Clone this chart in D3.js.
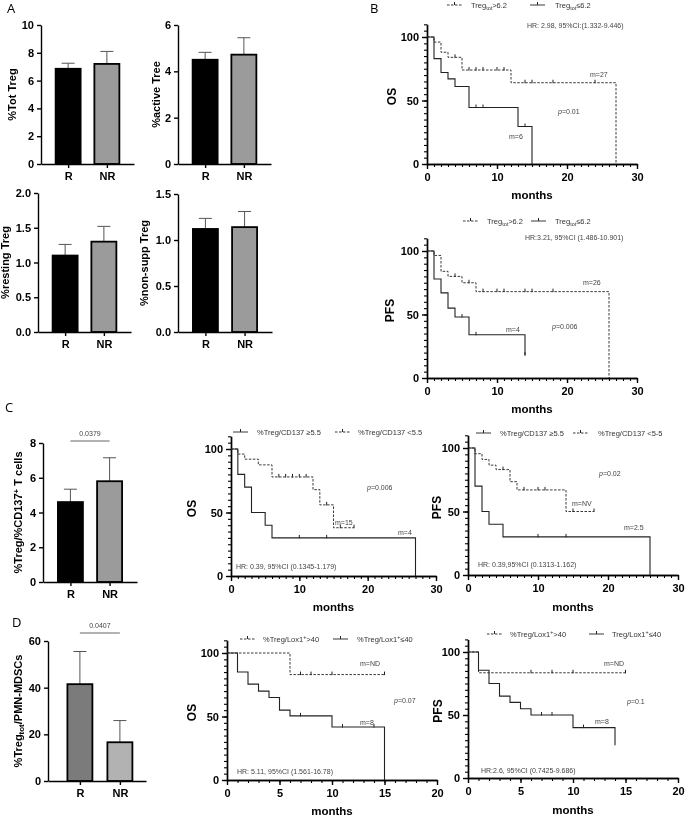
<!DOCTYPE html>
<html>
<head>
<meta charset="utf-8">
<script src="https://cdnjs.cloudflare.com/ajax/libs/d3/7.8.5/d3.min.js"></script>
<style>
body { margin: 0; background: #fff; }
svg { display: block; font-family: "Liberation Sans", Arial, sans-serif; will-change: transform; -webkit-font-smoothing: antialiased; }
.axis text { font-weight: bold; font-size: 11px; fill: #000; }
.axis path, .axis line { stroke: #000; stroke-width: 1.4; }
.minor line { stroke-width: 1.1; }
.lbl { font-weight: bold; fill: #000; }
.note { font-size: 7px; fill: #444; }
.leg { font-size: 7.5px; fill: #333; }
.letter { font-family: "Open Sans", sans-serif; font-size: 13px; }
</style>
</head>
<body>
<script>
var groups = ["R", "NR"];

// bar means and SEM
var totTreg = [6.85, 7.2], totTregSem = [0.4, 0.9];
var activeTreg = [4.5, 4.72], activeTregSem = [0.32, 0.73];
var restingTreg = [1.1, 1.3], restingTregSem = [0.16, 0.22];
var nonSuppTreg = [1.12, 1.14], nonSuppTregSem = [0.115, 0.17];
var cd137Ratio = [4.6, 5.8], cd137RatioSem = [0.74, 1.35];
var mdscRatio = [41.5, 16.6], mdscRatioSem = [14, 9.3];

// KM curves: event times, survival (%), censor times
var bOsHiT = [0, 1, 2, 3, 5, 12, 27], bOsHiS = [100, 96, 88, 84, 74, 64, 0];
var bOsHiCens = [4, 6, 7, 8, 10, 11, 14, 15, 18, 24];
var bOsLoT = [0, 1, 2, 3, 4, 6, 13, 15], bOsLoS = [100, 83, 72, 67, 61, 44.5, 29.5, 0];
var bOsLoCens = [7, 8, 14];

var bPfsHiT = [0, 1, 2, 3, 5, 7, 26], bPfsHiS = [100, 96.5, 84, 80, 75, 68, 0];
var bPfsHiCens = [4, 6, 8, 10, 11, 14, 15, 18];
var bPfsLoT = [0, 1, 2, 3, 4, 6, 14], bPfsLoS = [100, 78, 67, 55, 48, 34, 18];
var bPfsLoCens = [5, 7, 14];

var cOsHiT = [0, 1, 2, 3, 5, 6, 27], cOsHiS = [100, 80, 70, 50, 40, 30, 0];
var cOsHiCens = [10, 14];
var cOsLoT = [0, 1, 2, 4, 6, 12, 13, 15, 18], cOsLoS = [100, 96, 92, 87.5, 78, 68, 56, 38, 38];
var cOsLoCens = [7, 8, 9, 10, 11, 14, 16, 18];

var cPfsHiT = [0, 1, 2, 3, 5, 26], cPfsHiS = [100, 70, 50, 40, 30, 0];
var cPfsHiCens = [10, 14];
var cPfsLoT = [0, 1, 2, 3, 4, 6, 7, 14, 18], cPfsLoS = [100, 95.5, 91, 86.5, 83, 73.5, 67, 50, 50];
var cPfsLoCens = [5, 8, 10, 11, 15, 18];

var dOsHiT = [0, 6, 15], dOsHiS = [100, 83, 83];
var dOsHiCens = [7, 8, 10, 15];
var dOsLoT = [0, 1, 2, 3, 4, 5, 6, 10, 15], dOsLoS = [100, 85, 75.5, 70, 65, 55, 50.5, 41.7, 0];
var dOsLoCens = [7, 11, 14];

var dPfsHiT = [0, 1, 15], dPfsHiS = [100, 83.5, 83.5];
var dPfsHiCens = [6, 8, 10, 15];
var dPfsLoT = [0, 1, 2, 3, 4, 5, 6, 10, 14], dPfsLoS = [100, 85.5, 75, 65, 60, 55, 50, 40, 26];
var dPfsLoCens = [7, 8, 11];

var svg = d3.select("body").append("svg")
    .attr("width", 685)
    .attr("height", 816);

function rich(sel, parts) {
    var shift = 0;
    parts.forEach(function(p) {
        var ts = sel.append("tspan").text(p[0]);
        var want = p[1] === "sub" ? 2 : (p[1] === "sup" ? -3 : 0);
        if (want !== shift) {
            ts.attr("dy", want - shift);
            shift = want;
        }
        if (p[1] === "sub" || p[1] === "sup") ts.attr("font-size", "72%");
        if (p[1] === "it") ts.attr("font-style", "italic");
    });
    return sel;
}

function barChart(o) {
    var g = svg.append("g");
    var x = d3.scalePoint().domain(groups).range([o.left, o.right])
        .padding(o.pad || 0.7).align(o.align || 0.5);
    var y = d3.scaleLinear().domain([0, o.max]).range([o.bottom, o.top]);
    var fills = o.fills || ["#000", "#9b9b9b"];

    g.selectAll(".err").data(o.values).enter().append("path")
        .attr("d", function(d, i) {
            var cx = x(groups[i]), yt = y(d + o.sem[i]);
            return "M" + cx + "," + y(d) + "V" + yt + "M" + (cx - 6.5) + "," + yt + "H" + (cx + 6.5);
        })
        .attr("stroke", "#555")
        .attr("stroke-width", 1)
        .attr("fill", "none");

    g.selectAll(".bar").data(o.values).enter().append("rect")
        .attr("x", function(d, i) { return x(groups[i]) - 12.5; })
        .attr("width", 25)
        .attr("y", function(d) { return y(d); })
        .attr("height", function(d) { return y(0) - y(d); })
        .attr("fill", function(d, i) { return fills[i]; })
        .attr("stroke", "#000")
        .attr("stroke-width", 1.8);

    g.append("g").attr("class", "axis")
        .attr("transform", "translate(" + o.left + ",0)")
        .call(d3.axisLeft(y).tickValues(o.ticks).tickFormat(o.fmt || d3.format("d")).tickSize(4).tickSizeOuter(0));

    g.append("g").attr("class", "axis")
        .attr("transform", "translate(0," + o.bottom + ")")
        .call(d3.axisBottom(x).tickSize(4).tickPadding(4).tickSizeOuter(0));

    var lab = g.append("text").attr("class", "lbl")
        .attr("font-size", 11)
        .attr("text-anchor", "middle")
        .attr("transform", "translate(" + o.labelX + "," + ((o.top + o.bottom) / 2) + ") rotate(-90)");
    rich(lab, o.label);

    if (o.sig) {
        g.append("line")
            .attr("x1", x(groups[0])).attr("x2", x(groups[1]))
            .attr("y1", o.sigY).attr("y2", o.sigY)
            .attr("stroke", "#666").attr("stroke-width", 1);
        g.append("text").attr("class", "note")
            .attr("x", (x(groups[0]) + x(groups[1])) / 2)
            .attr("y", o.sigY - 5)
            .attr("text-anchor", "middle")
            .text(o.sig);
    }
}

function survAt(c, t) {
    var s = c.s[0];
    for (var i = 0; i < c.t.length; i++) if (c.t[i] <= t) s = c.s[i];
    return s;
}

function kmChart(o) {
    var g = svg.append("g");
    var x = d3.scaleLinear().domain([0, o.xMax]).range([o.x0, o.x1]);
    var y = d3.scaleLinear().domain([0, 110]).range([o.y0, o.y0 - 1.1 * (o.y0 - o.y100)]);

    g.append("g").attr("class", "axis minor")
        .attr("transform", "translate(" + o.x0 + ",0)")
        .call(d3.axisLeft(y).tickValues(d3.range(0, 111, 5)).tickFormat("").tickSize(3).tickSizeOuter(0));
    g.append("g").attr("class", "axis")
        .attr("transform", "translate(" + o.x0 + ",0)")
        .call(d3.axisLeft(y).tickValues([0, 50, 100]).tickSize(5).tickPadding(3).tickSizeOuter(0));

    g.append("g").attr("class", "axis minor")
        .attr("transform", "translate(0," + o.y0 + ")")
        .call(d3.axisBottom(x).tickValues(d3.range(0, o.xMax + 1)).tickFormat("").tickSize(3).tickSizeOuter(0));
    g.append("g").attr("class", "axis")
        .attr("transform", "translate(0," + o.y0 + ")")
        .call(d3.axisBottom(x).tickValues(d3.range(0, o.xMax + 1, o.xStep)).tickSize(5).tickPadding(4).tickSizeOuter(0));

    var line = d3.line()
        .x(function(d) { return x(d[0]); })
        .y(function(d) { return y(d[1]); })
        .curve(d3.curveStepAfter);

    o.curves.forEach(function(c) {
        var pts = c.t.map(function(t, i) { return [t, c.s[i]]; });
        g.append("path")
            .attr("d", line(pts))
            .attr("fill", "none")
            .attr("stroke", "#222")
            .attr("stroke-width", c.dash ? 0.9 : 1.1)
            .attr("stroke-dasharray", c.dash ? "2.5,1.5" : null);
        g.selectAll(null).data(c.cens).enter().append("line")
            .attr("x1", function(d) { return x(d); })
            .attr("x2", function(d) { return x(d); })
            .attr("y1", function(d) { return y(survAt(c, d)) - 3; })
            .attr("y2", function(d) { return y(survAt(c, d)) + 0.5; })
            .attr("stroke", "#222")
            .attr("stroke-width", 1);
    });

    o.legend.forEach(function(l) {
        g.append("line")
            .attr("x1", l.lx).attr("x2", l.lx + 15)
            .attr("y1", o.legY).attr("y2", o.legY)
            .attr("stroke", "#222").attr("stroke-width", 0.9)
            .attr("stroke-dasharray", l.dash ? "2.5,1.5" : null);
        g.append("line")
            .attr("x1", l.lx + 7.5).attr("x2", l.lx + 7.5)
            .attr("y1", o.legY - 3).attr("y2", o.legY)
            .attr("stroke", "#222").attr("stroke-width", 1);
        rich(g.append("text").attr("class", "leg").attr("x", l.tx).attr("y", o.legY + 2.5), l.parts);
    });

    o.notes.forEach(function(n) {
        rich(g.append("text").attr("class", "note").attr("x", n.x).attr("y", n.y), n.parts);
    });

    g.append("text").attr("class", "lbl")
        .attr("font-size", 12)
        .attr("text-anchor", "middle")
        .attr("transform", "translate(" + o.labelX + "," + ((o.y0 + o.y100) / 2 - 4) + ") rotate(-90)")
        .text(o.label);

    g.append("text").attr("class", "lbl")
        .attr("font-size", 11.5)
        .attr("text-anchor", "middle")
        .attr("x", (o.x0 + o.x1) / 2)
        .attr("y", o.monthsY)
        .text("months");
}

// panel letters
[["A", 7, 13], ["B", 370, 13], ["C", 5, 412], ["D", 12, 627]].forEach(function(l) {
    svg.append("text").attr("class", "letter").attr("x", l[1]).attr("y", l[2]).text(l[0]);
});

// A
barChart({ left: 41, right: 134, top: 25, bottom: 164, max: 10, ticks: [0, 2, 4, 6, 8, 10],
    values: totTreg, sem: totTregSem, labelX: 16, label: [["%Tot Treg"]] });
barChart({ left: 178, right: 271, top: 25, bottom: 164, max: 6, ticks: [0, 2, 4, 6],
    values: activeTreg, sem: activeTregSem, labelX: 160, label: [["%active Tree"]] });
barChart({ left: 38, right: 131, top: 193, bottom: 332, max: 2, ticks: [0, 0.5, 1, 1.5, 2], fmt: d3.format(".1f"),
    values: restingTreg, sem: restingTregSem, labelX: 9, label: [["%resting Treg"]] });
barChart({ left: 178, right: 272, top: 194, bottom: 332, max: 1.5, ticks: [0, 0.5, 1, 1.5], fmt: d3.format(".1f"),
    values: nonSuppTreg, sem: nonSuppTregSem, labelX: 148, label: [["%non-supp Treg"]] });

// B
kmChart({ x0: 427, x1: 637, y0: 164, y100: 37, xMax: 30, xStep: 10, labelX: 396, monthsY: 199, legY: 5,
    label: "OS",
    curves: [
        { t: bOsHiT, s: bOsHiS, cens: bOsHiCens, dash: true },
        { t: bOsLoT, s: bOsLoS, cens: bOsLoCens, dash: false }
    ],
    legend: [
        { lx: 447, tx: 471, dash: true, parts: [["Treg"], ["tot", "sub"], [">6.2"]] },
        { lx: 530, tx: 555, dash: false, parts: [["Treg"], ["tot", "sub"], ["≤6.2"]] }
    ],
    notes: [
        { x: 527, y: 27.5, parts: [["HR: 2.98, 95%CI:(1.332-9.446)"]] },
        { x: 590, y: 77, parts: [["m=27"]] },
        { x: 509, y: 139, parts: [["m=6"]] },
        { x: 558, y: 113.5, parts: [["p", "it"], ["=0.01"]] }
    ] });

kmChart({ x0: 427, x1: 637, y0: 378, y100: 251, xMax: 30, xStep: 10, labelX: 394, monthsY: 413, legY: 221,
    label: "PFS",
    curves: [
        { t: bPfsHiT, s: bPfsHiS, cens: bPfsHiCens, dash: true },
        { t: bPfsLoT, s: bPfsLoS, cens: bPfsLoCens, dash: false }
    ],
    legend: [
        { lx: 463, tx: 487, dash: true, parts: [["Treg"], ["tot", "sub"], [">6.2"]] },
        { lx: 531, tx: 555, dash: false, parts: [["Treg"], ["tot", "sub"], ["≤6.2"]] }
    ],
    notes: [
        { x: 525, y: 239.5, parts: [["HR:3.21, 95%CI (1.486-10.901)"]] },
        { x: 583, y: 284.5, parts: [["m=26"]] },
        { x: 506, y: 331.5, parts: [["m=4"]] },
        { x: 552, y: 328.5, parts: [["p", "it"], ["=0.006"]] }
    ] });

// C
barChart({ left: 43, right: 137, top: 443, bottom: 582, max: 8, ticks: [0, 2, 4, 6, 8],
    values: cd137Ratio, sem: cd137RatioSem, labelX: 22,
    label: [["%Treg/%CD137"], ["+", "sup"], [" T cells"]], sig: "0.0379", sigY: 441 });

kmChart({ x0: 231, x1: 436, y0: 576, y100: 449, xMax: 30, xStep: 10, labelX: 196, monthsY: 611, legY: 432,
    label: "OS",
    curves: [
        { t: cOsHiT, s: cOsHiS, cens: cOsHiCens, dash: false },
        { t: cOsLoT, s: cOsLoS, cens: cOsLoCens, dash: true }
    ],
    legend: [
        { lx: 233, tx: 257, dash: false, parts: [["%Treg/CD137 ≥5.5"]] },
        { lx: 335, tx: 358, dash: true, parts: [["%Treg/CD137 <5.5"]] }
    ],
    notes: [
        { x: 367, y: 489.5, parts: [["p", "it"], ["=0.006"]] },
        { x: 335, y: 524.5, parts: [["m=15"]] },
        { x: 398, y: 534.5, parts: [["m=4"]] },
        { x: 236, y: 568.5, parts: [["HR: 0.39, 95%CI (0.1345-1.179)"]] }
    ] });

kmChart({ x0: 468, x1: 678, y0: 575, y100: 448, xMax: 30, xStep: 10, labelX: 441, monthsY: 611, legY: 433,
    label: "PFS",
    curves: [
        { t: cPfsHiT, s: cPfsHiS, cens: cPfsHiCens, dash: false },
        { t: cPfsLoT, s: cPfsLoS, cens: cPfsLoCens, dash: true }
    ],
    legend: [
        { lx: 476, tx: 500, dash: false, parts: [["%Treg/CD137 ≥5.5"]] },
        { lx: 573, tx: 598, dash: true, parts: [["%Treg/CD137 <5-5"]] }
    ],
    notes: [
        { x: 599, y: 475.5, parts: [["p", "it"], ["=0.02"]] },
        { x: 572, y: 505.5, parts: [["m=NV"]] },
        { x: 624, y: 529.5, parts: [["m=2.5"]] },
        { x: 478, y: 566.5, parts: [["HR: 0.39,95%CI (0.1313-1.162)"]] }
    ] });

// D
barChart({ left: 48, right: 146, top: 641, bottom: 781, max: 60, ticks: [0, 20, 40, 60],
    pad: 0.725, align: 0.55, fills: ["#7b7b7b", "#b2b2b2"],
    values: mdscRatio, sem: mdscRatioSem, labelX: 22,
    label: [["%Treg"], ["tot", "sub"], ["/PMN-MDSCs"]], sig: "0.0407", sigY: 633 });

kmChart({ x0: 227, x1: 437, y0: 780, y100: 653, xMax: 20, xStep: 5, labelX: 196, monthsY: 815, legY: 639,
    label: "OS",
    curves: [
        { t: dOsHiT, s: dOsHiS, cens: dOsHiCens, dash: true },
        { t: dOsLoT, s: dOsLoS, cens: dOsLoCens, dash: false }
    ],
    legend: [
        { lx: 240, tx: 263, dash: true, parts: [["%Treg/Lox1"], ["+", "sup"], [">40"]] },
        { lx: 333, tx: 357, dash: false, parts: [["%Treg/Lox1"], ["+", "sup"], ["≤40"]] }
    ],
    notes: [
        { x: 360, y: 665.5, parts: [["m=ND"]] },
        { x: 360, y: 724.5, parts: [["m=8"]] },
        { x: 394, y: 702.5, parts: [["p", "it"], ["=0.07"]] },
        { x: 237, y: 773.5, parts: [["HR: 5.11, 95%CI (1.561-16.78)"]] }
    ] });

kmChart({ x0: 468, x1: 678, y0: 778, y100: 652, xMax: 20, xStep: 5, labelX: 442, monthsY: 814, legY: 634,
    label: "PFS",
    curves: [
        { t: dPfsHiT, s: dPfsHiS, cens: dPfsHiCens, dash: true },
        { t: dPfsLoT, s: dPfsLoS, cens: dPfsLoCens, dash: false }
    ],
    legend: [
        { lx: 487, tx: 510, dash: true, parts: [["%Treg/Lox1"], ["+", "sup"], [">40"]] },
        { lx: 589, tx: 612, dash: false, parts: [["Treg/Lox1"], ["+", "sup"], ["≤40"]] }
    ],
    notes: [
        { x: 604, y: 665.5, parts: [["m=ND"]] },
        { x: 595, y: 723.5, parts: [["m=8"]] },
        { x: 627, y: 703.5, parts: [["p", "it"], ["=0.1"]] },
        { x: 481, y: 772.5, parts: [["HR:2.6, 95%CI (0.7425-9.686)"]] }
    ] });
</script>
</body>
</html>
